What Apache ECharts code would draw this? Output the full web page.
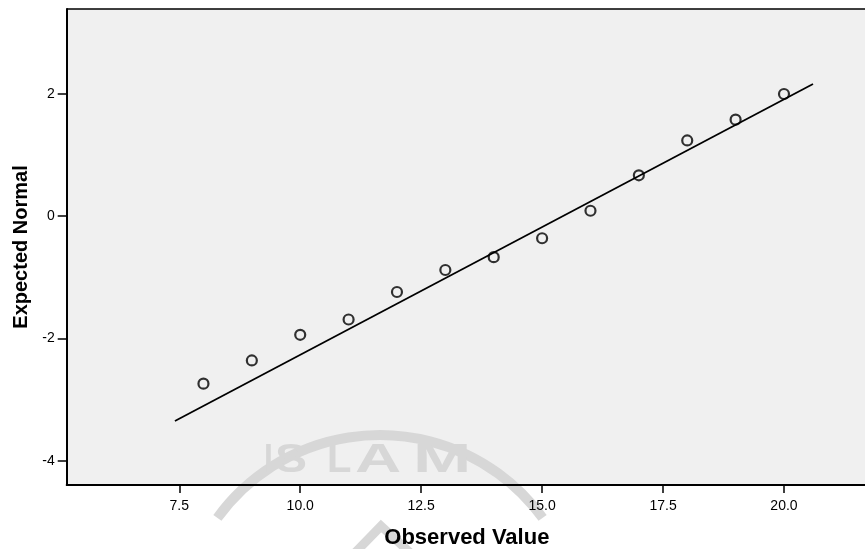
<!DOCTYPE html>
<html>
<head>
<meta charset="utf-8">
<script src="https://cdn.jsdelivr.net/npm/echarts@6/dist/echarts.min.js"></script>
<style>html,body{margin:0;padding:0;background:#fff}#c{width:865px;height:549px}</style>
</head>
<body>
<div id="c"></div>
<script>
var observed = [8, 9, 10, 11, 12, 13, 14, 15, 16, 17, 18, 19, 20];
var expectedNormal = [-2.74, -2.36, -1.94, -1.69, -1.24, -0.88, -0.67, -0.36, 0.09, 0.67, 1.24, 1.58, 2.00];
var refLineX = [7.41, 20.6];
var refLineY = [-3.35, 2.165];
var xTicks = [7.5, 10.0, 12.5, 15.0, 17.5, 20.0];
var yTicks = [-4, -2, 0, 2];
var watermarkLetters = ['I', 'S', 'L', 'A', 'M'];

var points = observed.map(function (x, i) { return [x, expectedNormal[i]]; });
var line = refLineX.map(function (x, i) { return [x, refLineY[i]]; });

var chart = echarts.init(document.getElementById('c'));
var font = 'Liberation Sans, Arial, sans-serif';
var wmColor = '#d7d7d7';
var letterX = [264, 275, 327, 355, 413];
var letterScale = [0.8, 1.2, 1.0, 1.6, 1.75];
var wm = [
  { type: 'arc', z: 1, silent: true,
    shape: { cx: 380, cy: 636, r: 201, startAngle: Math.PI * 1.2, endAngle: Math.PI * 1.8 },
    style: { stroke: wmColor, lineWidth: 10, fill: null } },
  { type: 'polyline', z: 1, silent: true,
    shape: { points: [[348, 560], [381, 526], [418, 560]] },
    style: { stroke: wmColor, lineWidth: 9, fill: null } }
];
watermarkLetters.forEach(function (ch, i) {
  wm.push({ type: 'text', z: 1, silent: true, x: letterX[i], y: 441, scaleX: letterScale[i],
    style: { text: ch, font: 'bold 40px ' + font, fill: wmColor } });
});
wm.push({ type: 'line', z: 5, silent: true,
  shape: { x1: 66.7, y1: 9, x2: 865, y2: 9 },
  style: { stroke: '#000', lineWidth: 1.5 } });

chart.setOption({
  animation: false,
  backgroundColor: '#ffffff',
  grid: {
    left: 66.7, top: 9, right: -2, bottom: 64, outerBoundsMode: 'none', containLabel: false,
    show: true, backgroundColor: '#f0f0f0', borderWidth: 0
  },
  graphic: wm,
  xAxis: {
    type: 'value', min: 5.173, max: 21.716, z: 3,
    name: 'Observed Value', nameLocation: 'middle', nameGap: 42,
    nameTextStyle: { fontFamily: font, fontWeight: 'bold', fontSize: 22, color: '#000' },
    axisLine: { show: true, onZero: false, lineStyle: { color: '#000', width: 2 } },
    axisTick: { show: true, length: 8, inside: false, customValues: xTicks, lineStyle: { color: '#000', width: 1.5 } },
    axisLabel: { customValues: xTicks, fontFamily: font, fontSize: 14, color: '#000', margin: 14,
      formatter: function (v) { return v.toFixed(1); } },
    splitLine: { show: false }
  },
  yAxis: {
    type: 'value', min: -4.398, max: 3.391, z: 3,
    name: 'Expected Normal', nameLocation: 'middle', nameGap: 31, nameRotate: 90,
    nameTextStyle: { fontFamily: font, fontWeight: 'bold', fontSize: 20, color: '#000' },
    axisLine: { show: true, onZero: false, lineStyle: { color: '#000', width: 2 } },
    axisTick: { show: true, length: 9, customValues: yTicks, lineStyle: { color: '#000', width: 1.5 } },
    axisLabel: { customValues: yTicks, fontFamily: font, fontSize: 14, color: '#000', margin: 12 },
    splitLine: { show: false }
  },
  series: [
    { type: 'line', data: line, symbol: 'none', z: 3,
      lineStyle: { color: '#000', width: 1.8 } },
    { type: 'scatter', data: points, symbol: 'circle', symbolSize: 10, z: 4,
      itemStyle: { color: 'transparent', borderColor: '#000', borderWidth: 2.2 } }
  ]
});
</script>
</body>
</html>
